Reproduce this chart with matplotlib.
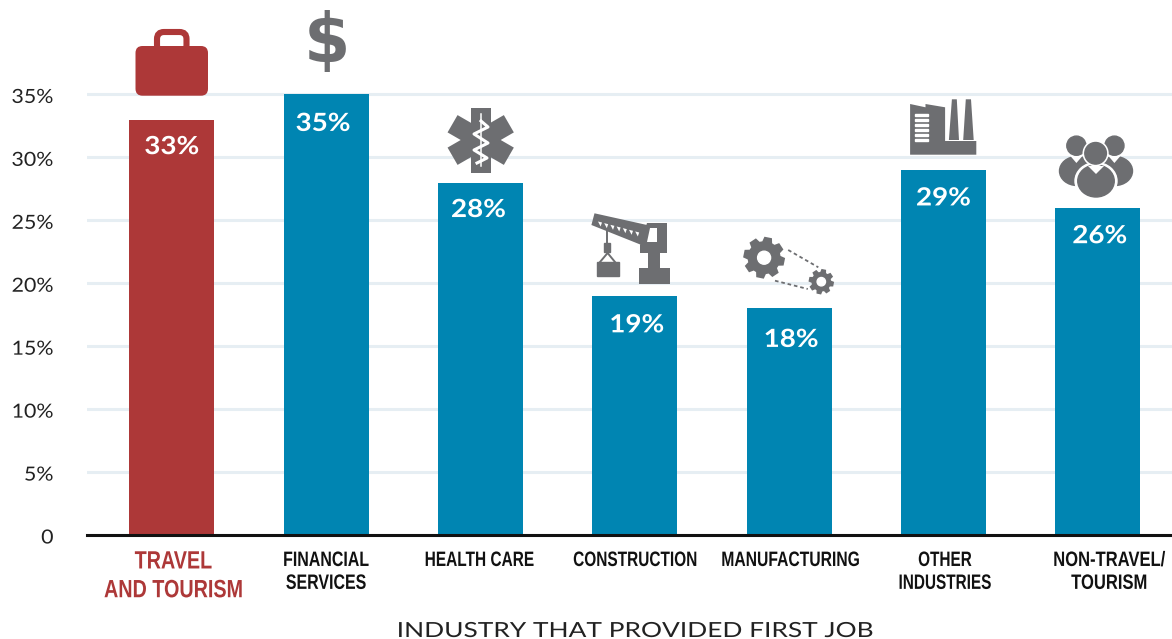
import numpy as np
import matplotlib
matplotlib.use("Agg")
import matplotlib.pyplot as plt
from matplotlib.patches import Circle, Ellipse, FancyBboxPatch, Polygon, Rectangle
from matplotlib.patheffects import AbstractPathEffect
from matplotlib.transforms import Affine2D

categories = ["TRAVEL\nAND TOURISM", "FINANCIAL\nSERVICES", "HEALTH CARE", "CONSTRUCTION",
              "MANUFACTURING", "OTHER\nINDUSTRIES", "NON-TRAVEL/\nTOURISM"]
values = [33, 35, 28, 19, 18, 29, 26]
value_labels = ["33%", "35%", "28%", "19%", "18%", "29%", "26%"]
y_ticks = [0, 5, 10, 15, 20, 25, 30, 35]
y_tick_labels = ["0", "5%", "10%", "15%", "20%", "25%", "30%", "35%"]

RED = "#AD3838"
BLUE = "#0085B2"
GREY = "#6D6E71"
GRID = "#E6EEF3"
SANS = ["Lato", "Open Sans", "DejaVu Sans"]
HEAD = ["Liberation Sans", "DejaVu Sans"]

W, H = 1172, 639


class Stretch(AbstractPathEffect):
    # squeeze or widen a text about a pixel x, no condensed font is installed
    def __init__(self, sx, cx, dx=0, dy=0):
        super().__init__()
        self.t = Affine2D().translate(-cx, 0).scale(sx, 1).translate(cx + dx, dy)

    def draw_path(self, renderer, gc, tpath, affine, rgbFace=None):
        renderer.draw_path(gc, tpath, affine + self.t, rgbFace)


fig = plt.figure(figsize=(W / 100, H / 100), dpi=100, facecolor="white")
ax = fig.add_axes([87 / W, (H - 535) / H, (W - 87) / W, 535 / H])

colors = [RED] + [BLUE] * 6
x = np.arange(len(values))
ax.bar(x, values, width=0.551, color=colors, zorder=3)
ax.set_xlim(-0.5495, 6.481)
ax.set_ylim(0, 42.5)
for s in ["top", "right", "left"]:
    ax.spines[s].set_visible(False)
ax.spines["bottom"].set_linewidth(2.2)
ax.spines["bottom"].set_color("#111111")
ax.spines["bottom"].set_zorder(4)
ax.yaxis.grid(True, color=GRID, linewidth=2.2, zorder=0)
ax.set_axisbelow(True)

ax.set_yticks(y_ticks)
ax.set_yticklabels(y_tick_labels, family=SANS, fontsize=14, color="#222222")
ax.tick_params(axis="y", length=0, pad=24)
for t in ax.get_yticklabels():
    t.set_path_effects([Stretch(1.1, 54, dy=-1.5)])

ax.set_xticks(x)
ax.set_xticklabels(categories, family=HEAD, fontweight="bold", fontsize=15,
                   color="#111111", linespacing=1.26)
ax.tick_params(axis="x", length=0, pad=11.5)
cat_sx = [0.79, 0.766, 0.741, 0.74, 0.753, 0.736, 0.796]
cat_dx = [1.5, 0, -1, 0.5, 1.5, 1.5, 11.5]
cat_dy = [1.5, 0, 0, 0, 0, 0, 0]
for i, t in enumerate(ax.get_xticklabels()):
    t.set_path_effects([Stretch(cat_sx[i], 171.8 + 154.33 * i, dx=cat_dx[i], dy=cat_dy[i])])
first = ax.get_xticklabels()[0]
first.set_color(RED)
first.set_fontsize(18)
first.set_linespacing(1.25)

label_dx = [0, -3, -2, 2, 2, 0, 2]
label_dy = [27, 29, 27, 29, 31, 28, 28]
for i, (xi, v, t) in enumerate(zip(x, values, value_labels)):
    a = ax.annotate(t, (xi, v), xytext=(label_dx[i] * 0.72, -label_dy[i] * 0.72),
                    textcoords="offset points", ha="center", va="center", color="white",
                    fontsize=18, fontweight="bold", family=SANS, zorder=5)
    a.set_path_effects([Stretch(1.11, 171.8 + 154.33 * i + label_dx[i])])

xl = fig.text(635 / W, 1 - 637 / H, "INDUSTRY THAT PROVIDED FIRST JOB", ha="center", va="baseline",
              family=SANS, fontsize=15, color="#222222")
xl.set_path_effects([Stretch(1.263, 635)])

# overlay in pixel coordinates for the icons
ic = fig.add_axes([0, 0, 1, 1], facecolor="none")
ic.set_xlim(0, W)
ic.set_ylim(H, 0)
ic.axis("off")


def poly(pts, color=GREY, z=6):
    ic.add_patch(Polygon(pts, closed=True, facecolor=color, edgecolor="none", zorder=z))


def gear(cx, cy, r_out, r_in, r_hole, teeth=8):
    pts = []
    step = 2 * np.pi / teeth
    for i in range(teeth):
        a = i * step + 0.2
        for off, r in [(-0.30, r_in), (-0.18, r_out), (0.18, r_out), (0.30, r_in)]:
            pts.append((cx + r * np.cos(a + off * step * 1.3), cy + r * np.sin(a + off * step * 1.3)))
    poly(pts)
    ic.add_patch(Circle((cx, cy), r_hole, color="white", zorder=7))


# briefcase
ic.add_patch(FancyBboxPatch((157, 32), 29.5, 20, boxstyle="round,pad=0,rounding_size=7",
                            facecolor="none", edgecolor=RED, linewidth=4.4, zorder=6))
ic.add_patch(FancyBboxPatch((135.5, 46), 72.5, 49.7, boxstyle="round,pad=0,rounding_size=7",
                            facecolor=RED, edgecolor="none", zorder=6))

# dollar
ic.text(326.5, 42.5, "$", ha="center", va="center", fontsize=48, fontweight="bold",
        family="DejaVu Sans", color=GREY, zorder=6)

# star of life
star_x, star_y = 480.7, 140
for ang in [90, 30, -30]:
    c, s = np.cos(np.radians(ang)), np.sin(np.radians(ang))
    ln, hw = 32.5, 10
    poly([(star_x + ln * c - hw * s, star_y + ln * s + hw * c),
          (star_x + ln * c + hw * s, star_y + ln * s - hw * c),
          (star_x - ln * c + hw * s, star_y - ln * s - hw * c),
          (star_x - ln * c - hw * s, star_y - ln * s + hw * c)])
ic.plot([star_x, star_x], [114, 166], color="white", lw=1.1, zorder=7)
ic.plot([481, 488, 474, 488, 474, 487, 477], [121, 127, 134, 143, 150, 158, 163],
        color="white", lw=2.2, zorder=7, solid_joinstyle="round")

# crane
poly([(594.5, 213.3), (647, 225), (650, 226), (641.5, 245), (591.4, 225)])
poly([(647.1, 223.3), (666.7, 223.3), (666.7, 253.3), (660.3, 253.3), (660.3, 267.7), (669.7, 267.7),
      (669.7, 284), (638.8, 284), (638.8, 267.7), (647.9, 267.7), (647.9, 253.3), (640.4, 253.3), (640.4, 245)])
poly([(650, 228.3), (657.3, 228.3), (657.3, 242.3), (647, 242.3)], "white", 7)
for i in range(7):
    tx = 598 + i * 6.2
    ty = 221.5 + i * 1.66
    poly([(tx, ty), (tx + 4, ty + 1), (tx + 2.6, ty + 5)], "white", 7)
ic.plot([606.5, 606.5], [230, 243.3], color=GREY, lw=1.4, zorder=6)
ic.add_patch(Rectangle((604, 242.7), 6, 9, color=GREY, zorder=6))
ic.plot([600, 607.6, 615], [262, 253, 262], color=GREY, lw=1.4, zorder=6)
ic.add_patch(Rectangle((597, 262), 22, 13.7, color=GREY, zorder=6))

# gears
gear(764.1, 257.7, 21, 16.5, 6.5)
gear(821.3, 281.7, 12.8, 9.8, 4.2)
ic.plot([788.2, 818.3], [250, 267.3], color=GREY, lw=1.3, ls=(0, (2, 1.6)), zorder=6)
ic.plot([775, 807.8], [280.7, 289], color=GREY, lw=1.3, ls=(0, (2, 1.6)), zorder=6)

# factory
poly([(910.1, 104), (925.5, 107.3), (925.5, 104), (945.1, 107.3), (945.1, 141),
      (976.3, 141), (976.3, 154.7), (910.1, 154.7)])
for i in range(6):
    ic.add_patch(Rectangle((915.4, 114 + i * 5), 12.8, 2, color="white", zorder=7))
poly([(951.9, 99.3), (956.8, 99.3), (959, 140), (948.9, 140)])
poly([(965.8, 99.3), (971, 99.3), (973.7, 140), (963.2, 140)])

# people
for sx, bx in [(1076.4, 1077), (1114.4, 1115)]:
    ic.add_patch(Ellipse((bx, 171), 35, 29, color=GREY, zorder=6))
    poly([(sx - 6, 156), (sx + 6, 156), (sx, 163)], "white", 6)
    ic.add_patch(Circle((sx, 145.7), 11.2, color="white", zorder=7))
    ic.add_patch(Circle((sx, 145.7), 9.6, color=GREY, zorder=7))
ic.add_patch(Ellipse((1096, 181), 42, 37, color="white", zorder=8))
ic.add_patch(Ellipse((1096, 181), 36.5, 32, color=GREY, zorder=8))
ic.add_patch(Circle((1095.6, 153.3), 12.4, color="white", zorder=9))
ic.add_patch(Circle((1095.6, 153.3), 10.8, color=GREY, zorder=9))
poly([(1088, 166), (1104, 166), (1096, 174)], "white", 9)

plt.savefig("out.png", dpi=100)
plt.close()
